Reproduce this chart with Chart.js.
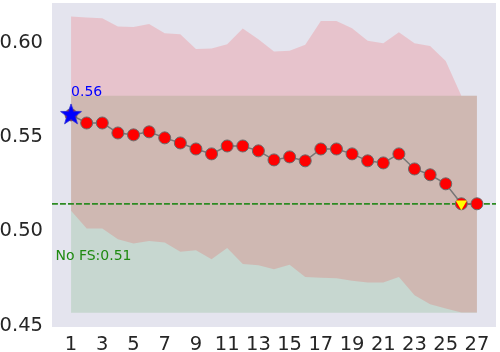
<!DOCTYPE html>
<html>
<head>
<meta charset="utf-8">
<script src="https://cdn.jsdelivr.net/npm/chart.js@4"></script>
<style>
  html, body { margin: 0; padding: 0; background: #ffffff; }
  canvas { display: block; }
</style>
</head>
<body>
<canvas id="c" width="500" height="352"></canvas>
<script>
// ---------- data ----------
const categories = [1,2,3,4,5,6,7,8,9,10,11,12,13,14,15,16,17,18,19,20,21,22,23,24,25,26,27];
const meanVals  = [0.5618,0.5575,0.5575,0.5522,0.5512,0.5528,0.5496,0.5469,0.5437,0.5411,0.5453,0.5453,0.5427,0.5379,0.5395,0.5374,0.5437,0.5437,0.5411,0.5374,0.5363,0.5411,0.5331,0.5300,0.5252,0.5146,0.5146];
const upperVals = [0.6140,0.6135,0.6131,0.6087,0.6085,0.6100,0.6051,0.6046,0.5968,0.5970,0.5993,0.6076,0.6020,0.5954,0.5958,0.5990,0.6117,0.6117,0.6078,0.6012,0.5998,0.6057,0.5998,0.5984,0.5904,0.5720,0.5720];
const lowerVals = [0.5109,0.5015,0.5015,0.4958,0.4935,0.4949,0.4940,0.4892,0.4900,0.4852,0.4911,0.4826,0.4820,0.4799,0.4822,0.4758,0.4754,0.4751,0.4737,0.4728,0.4728,0.4758,0.4660,0.4613,0.4590,0.4569,0.4569];
const noFsMean = 0.5146;
const noFsHigh = 0.5719;
const noFsLow  = 0.4567;
const bestIndex = 0;      // star
const chosenIndex = 25;   // yellow triangle
const bestLabel = "0.56";
const noFsLabel = "No FS:0.51";
const xTicks = [1,3,5,7,9,11,13,15,17,19,21,23,25,27];
const xTickLabels = ["1","3","5","7","9","11","13","15","17","19","21","23","25","27"];
const yTicks = [0.45,0.50,0.55,0.60];
const yTickLabels = ["0.45","0.50","0.55","0.60"];

// ---------- helpers ----------
const pts = (vals) => categories.map((x, i) => ({x: x, y: vals[i]}));
const constPts = (v) => categories.map((x) => ({x: x, y: v}));

function makeStar(size, color, edge) {
  const cv = document.createElement('canvas');
  cv.width = size; cv.height = size;
  const g = cv.getContext('2d');
  const c = size / 2, R = size / 2 - 1, r = R * 0.40;
  g.beginPath();
  for (let k = 0; k < 10; k++) {
    const a = -Math.PI / 2 + k * Math.PI / 5;
    const rr = (k % 2 === 0) ? R : r;
    const px = c + rr * Math.cos(a), py = c + rr * Math.sin(a);
    if (k === 0) g.moveTo(px, py); else g.lineTo(px, py);
  }
  g.closePath();
  g.fillStyle = color; g.fill();
  g.lineWidth = 0.8; g.strokeStyle = edge; g.stroke();
  return cv;
}
const starImg = makeStar(24, '#0000ff', '#2a2ad0');

const FONT = '"DejaVu Sans", sans-serif';

const bgPlugin = {
  id: 'bgPlugin',
  beforeDraw(chart) {
    const {ctx, chartArea: a} = chart;
    ctx.save();
    ctx.fillStyle = '#ffffff';
    ctx.fillRect(0, 0, chart.width, chart.height);
    ctx.fillStyle = '#e4e4ee';
    ctx.fillRect(a.left, a.top, a.right - a.left, a.bottom - a.top);
    ctx.restore();
  },
  beforeDatasetDraw(chart, args) {
    if (args.index !== 4) return;
    const {ctx, chartArea: a, scales} = chart;
    const y = scales.y.getPixelForValue(noFsMean);
    ctx.save();
    ctx.beginPath();
    ctx.rect(a.left, a.top, a.right - a.left, a.bottom - a.top);
    ctx.clip();
    ctx.strokeStyle = '#2c8a22';
    ctx.lineWidth = 1.7;
    ctx.setLineDash([5.9, 2.1]);
    ctx.beginPath();
    ctx.moveTo(a.left, y);
    ctx.lineTo(a.right, y);
    ctx.stroke();
    ctx.restore();
  },
  afterDraw(chart) {
    const {ctx, scales} = chart;
    ctx.save();
    ctx.font = '14px ' + FONT;
    ctx.textAlign = 'left';
    ctx.textBaseline = 'alphabetic';
    ctx.fillStyle = '#0000ff';
    ctx.fillText(bestLabel, scales.x.getPixelForValue(categories[bestIndex]), scales.y.getPixelForValue(meanVals[bestIndex] + 0.01));
    ctx.fillStyle = '#1f8a10';
    ctx.fillText(noFsLabel, scales.x.getPixelForValue(0), scales.y.getPixelForValue(noFsMean - 0.03));
    ctx.restore();
  }
};

new Chart(document.getElementById('c'), {
  type: 'line',
  data: {
    datasets: [
      { // 0 green band low
        data: constPts(noFsLow), pointRadius: 0, borderWidth: 0, fill: false, order: 10, borderColor: 'rgba(0,0,0,0)'
      },
      { // 1 green band high
        data: constPts(noFsHigh), pointRadius: 0, borderWidth: 0, fill: '-1', order: 9,
        borderColor: 'rgba(0,0,0,0)', backgroundColor: 'rgba(0,128,0,0.125)'
      },
      { // 2 red band low
        data: pts(lowerVals), pointRadius: 0, borderWidth: 0, fill: false, order: 8, borderColor: 'rgba(0,0,0,0)'
      },
      { // 3 red band high
        data: pts(upperVals), pointRadius: 0, borderWidth: 0, fill: '-1', order: 7,
        borderColor: 'rgba(0,0,0,0)', backgroundColor: 'rgba(255,0,0,0.14)'
      },
      { // 4 main line
        data: pts(meanVals), order: 2, fill: false,
        borderColor: '#767676', borderWidth: 1.5,
        pointRadius: 6, pointBorderWidth: 1, pointBackgroundColor: '#ff0000', pointBorderColor: '#6a6a6a',
        tension: 0
      },
      { // 5 best star
        data: [{x: categories[bestIndex], y: meanVals[bestIndex]}], order: 1, showLine: false,
        pointStyle: starImg, pointRadius: 12
      },
      { // 6 chosen triangle
        data: [{x: categories[chosenIndex], y: meanVals[chosenIndex]}], order: 0, showLine: false,
        pointStyle: 'triangle', pointRotation: 180, pointRadius: 6.5,
        pointBackgroundColor: '#ffff00', pointBorderColor: '#ffff00', pointBorderWidth: 0
      }
    ]
  },
  options: {
    responsive: false,
    animation: false,
    devicePixelRatio: 1,
    layout: { autoPadding: false, padding: { left: 0, top: 3, right: 4, bottom: 0 } },
    plugins: { legend: { display: false }, tooltip: { enabled: false } },
    elements: { line: { borderCapStyle: 'butt' } },
    scales: {
      x: {
        type: 'linear', min: -0.22, max: 28.22,
        grid: { display: false, drawTicks: false },
        border: { display: false },
        afterBuildTicks: (s) => { s.ticks = xTicks.map(v => ({value: v})); },
        afterFit: (s) => { s.height = 25; s.paddingLeft = 0; s.paddingRight = 0; },
        ticks: {
          autoSkip: false, maxRotation: 0, padding: 6,
          color: '#262626', font: { family: FONT, size: 19.5 },
          callback: (v, i) => xTickLabels[i]
        }
      },
      y: {
        type: 'linear', min: 0.4492, max: 0.6212,
        grid: { display: false, drawTicks: false },
        border: { display: false },
        afterBuildTicks: (s) => { s.ticks = yTicks.map(v => ({value: v})); },
        afterFit: (s) => { s.width = 52; s.paddingTop = 0; s.paddingBottom = 0; },
        ticks: {
          autoSkip: false, padding: 9,
          color: '#262626', font: { family: FONT, size: 19.5 },
          callback: (v, i) => yTickLabels[i]
        }
      }
    }
  },
  plugins: [bgPlugin]
});
</script>
</body>
</html>
